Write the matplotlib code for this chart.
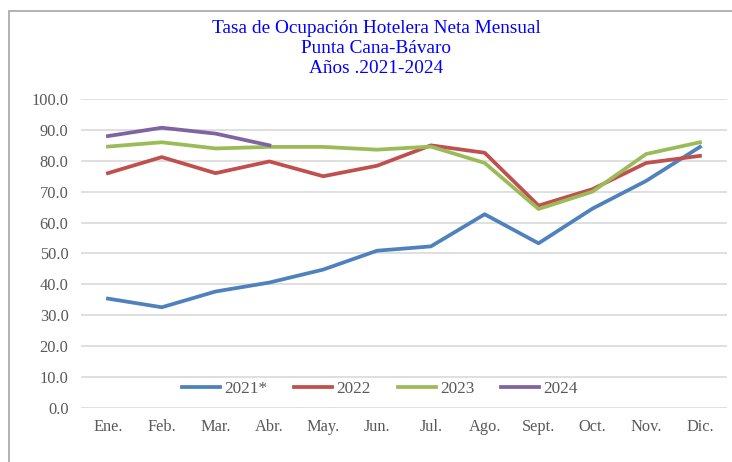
import matplotlib.pyplot as plt
from matplotlib.patches import Rectangle

months = ["Ene.", "Feb.", "Mar.", "Abr.", "May.", "Jun.", "Jul.", "Ago.", "Sept.", "Oct.", "Nov.", "Dic."]
y2021 = [35.4, 32.6, 37.7, 40.6, 44.8, 50.9, 52.3, 62.7, 53.3, 64.5, 73.5, 84.5]
y2022 = [76.0, 81.2, 76.0, 79.8, 75.0, 78.4, 85.0, 82.6, 65.5, 70.8, 79.3, 81.6]
y2023 = [84.6, 86.0, 84.0, 84.5, 84.5, 83.6, 84.6, 79.3, 64.4, 70.0, 82.2, 86.0]
y2024 = [88.0, 90.7, 88.8, 85.0]

plt.rcParams["font.family"] = ["Liberation Serif", "DejaVu Serif"]

fig = plt.figure(figsize=(7.32, 4.62), dpi=100)
ax = fig.add_axes([0.1107, 0.1169, 0.8823, 0.6688])

# marco del grafico (se sale de la imagen por la derecha y abajo)
fig.patches.append(Rectangle((9 / 732, -0.1), 1.2, 1 - 11 / 462 + 0.1,
                             transform=fig.transFigure, fill=False,
                             edgecolor="#a6a6a6", linewidth=1.2))

x = range(len(months))
ax.plot(x, y2021, color="#4F81BD", lw=2.7, label="2021*")
ax.plot(x, y2022, color="#C0504D", lw=2.7, label="2022")
ax.plot(x, y2023, color="#9BBB59", lw=2.7, label="2023")
ax.plot(range(len(y2024)), y2024, color="#8064A2", lw=2.7, label="2024")

ax.set_xlim(-0.5, 11.5)
ax.set_ylim(0, 100)
ax.set_yticks(range(0, 101, 10))
ax.set_yticklabels([f"{v:.1f}" for v in range(0, 101, 10)])
ax.set_xticks(list(x))
ax.set_xticklabels(months)
ax.tick_params(axis="both", length=0, labelsize=11.8, colors="#595959")
ax.tick_params(axis="x", pad=8)
ax.tick_params(axis="y", pad=9)
ax.grid(axis="y", color="#d9d9d9", lw=1.2)
ax.set_axisbelow(True)
for s in ax.spines.values():
    s.set_visible(False)

fig.text(376 / 732, 1 - 48.5 / 462, "Tasa de Ocupación Hotelera Neta Mensual\nPunta Cana-Bávaro\nAños .2021-2024",
         ha="center", va="center", color="#0000FF", fontsize=13.9, linespacing=1.2)

ax.legend(loc="center", bbox_to_anchor=(380 / 732, 1 - 389 / 462), bbox_transform=fig.transFigure,
          ncol=4, frameon=False, fontsize=12.4, handlelength=2.2, columnspacing=1.55,
          handletextpad=0.25, labelcolor="#595959")

fig.savefig("out.png", dpi=100)
